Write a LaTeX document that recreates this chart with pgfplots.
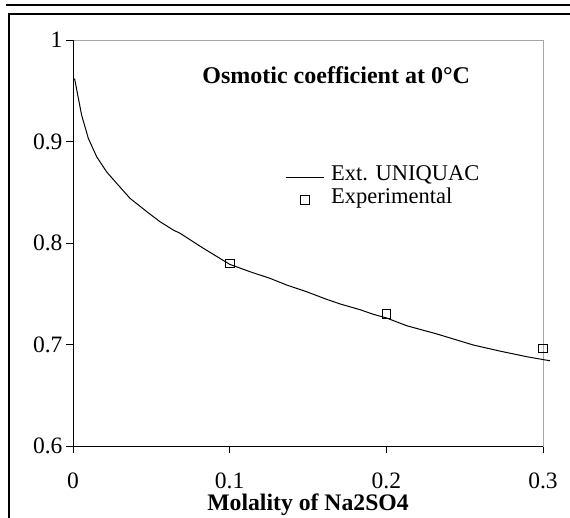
\documentclass[border=0pt]{standalone}
\usepackage{fontspec}
\setmainfont{Liberation Serif}
\usepackage{pgfplots}
\pgfplotsset{compat=1.18}
\pgfplotsset{
  linelegend/.style={legend image code/.code={\draw[##1] (0pt,0pt) -- (38pt,0pt);}},
  marklegend/.style={legend image code/.code={\draw[##1] plot coordinates {(19pt,0pt)};}},
}
\begin{document}
\begin{tikzpicture}[x=1pt,y=1pt]
\path[use as bounding box] (0,0) rectangle (570,517);
\begin{scope}
\clip (0,0) rectangle (570,517);
\draw[line width=1.3pt] (9,-5) -- (9,503) -- (580,503);
\draw[line width=2.6pt] (6,512) -- (580,512);
\end{scope}
\begin{axis}[
  at={(73pt,71pt)}, anchor=south west,
  scale only axis, width=470pt, height=406pt,
  xmin=0, xmax=0.3, ymin=0.6, ymax=1,
  xtick={0,0.1,0.2,0.3}, ytick={0.6,0.7,0.8,0.9,1},
  /pgf/number format/assume math mode=true,
  ticklabel style={font=\fontsize{23.5}{27}\selectfont},
  yticklabel style={/pgf/number format/fixed},
  xticklabel style={/pgf/number format/fixed, yshift=-19.5pt, text depth=0pt, inner ysep=0pt},
  axis line style={gray!70, line width=0.9pt},
  tick pos=left, tick align=outside,
  major tick length=7pt,
  tick style={black, line width=0.9pt},
  clip=false,
  xlabel={Molality of Na2SO4},
  xlabel style={font=\bfseries\fontsize{23.7}{27}\selectfont, at={(axis description cs:0.5,-0.159)}, anchor=base, text height=16pt, inner ysep=0pt},
  legend style={at={(rel axis cs:0.451,0.691)}, anchor=north west, draw=none, fill=none,
    font=\fontsize{22.5}{24}\selectfont, inner xsep=0pt, inner ysep=0pt, row sep=0pt,
    nodes={inner ysep=0pt, inner xsep=4pt, text height=15pt, text depth=8pt},
    /tikz/every odd column/.append style={column sep=3pt}},
  legend cell align=left,
]
\draw[black, line width=0.9pt] (rel axis cs:0,1) -- (rel axis cs:0,0) -- (rel axis cs:1,0);
\addplot[black, line width=1pt, mark=none, linelegend] coordinates {
(0.001,0.962) (0.0055,0.926) (0.0098,0.903) (0.0151,0.885) (0.0215,0.870)
(0.0289,0.857) (0.0364,0.844) (0.047,0.831) (0.0555,0.821) (0.064,0.8128)
(0.0683,0.8096) (0.0832,0.7948) (0.1,0.779) (0.113,0.7717) (0.1257,0.7652)
(0.1364,0.7586) (0.1491,0.752) (0.1619,0.7445) (0.1704,0.740) (0.1832,0.7343)
(0.1916,0.7298) (0.2,0.7262) (0.213,0.7185) (0.232,0.7105) (0.2555,0.6995)
(0.2725,0.6935) (0.2895,0.688) (0.3044,0.684)
};
\addlegendentry{Ext. UNIQUAC}
\addplot[only marks, mark=square, mark size=4.3pt, mark options={black, line width=0.9pt, fill=white}, marklegend] coordinates {
(0.1,0.780) (0.2,0.730) (0.3,0.696)
};
\addlegendentry{Experimental}
\node[font=\bfseries\fontsize{24}{27}\selectfont, anchor=base] at (rel axis cs:0.56,0.892) {Osmotic coefficient at 0°C};
\end{axis}
\end{tikzpicture}
\end{document}
